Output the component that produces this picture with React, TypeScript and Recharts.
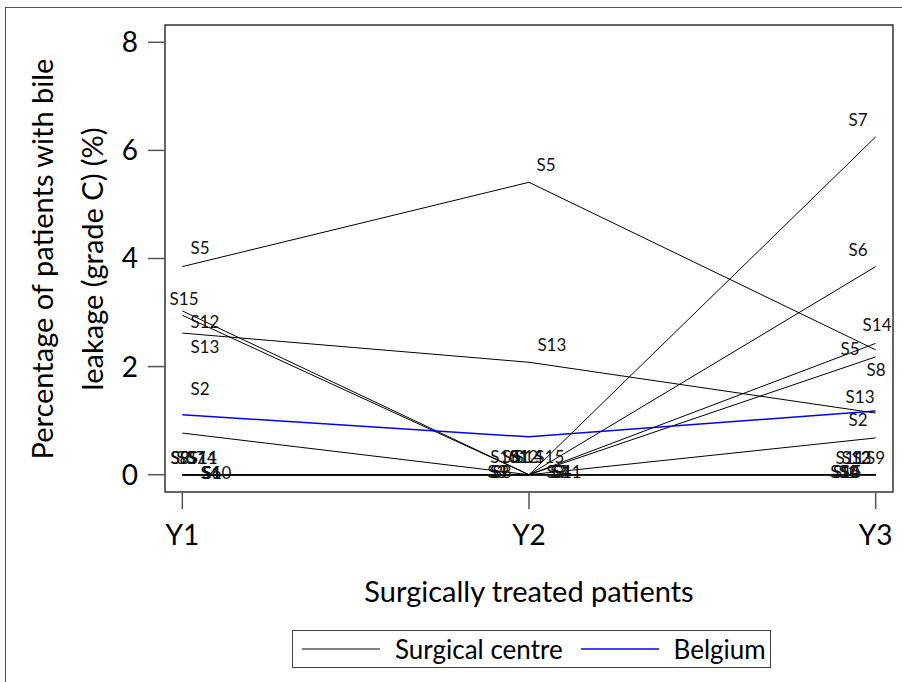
import {
  ComposedChart,
  Line,
  Scatter,
  XAxis,
  YAxis,
  ReferenceArea,
} from "recharts"

const years = ["Y1", "Y2", "Y3"]
const yTicks = [0, 2, 4, 6, 8]

const centres = [
  "S1", "S2", "S3", "S4", "S5", "S6", "S7", "S8",
  "S9", "S10", "S11", "S12", "S13", "S14", "S15",
]

// percentage per year (Y1, Y2, Y3)
const S1 = [0, 0, 0]
const S2 = [0.77, 0, 0.68]
const S3 = [0, 0, 0]
const S4 = [0, 0, 0]
const S5 = [3.85, 5.41, 2.31]
const S6 = [0, 0, 3.85]
const S7 = [0, 0, 6.25]
const S8 = [0, 0, 2.18]
const S9 = [0, 0, 0]
const S10 = [0, 0, 0]
const S11 = [0, 0, 0]
const S12 = [2.95, 0, 0]
const S13 = [2.62, 2.08, 1.14]
const S14 = [0, 0, 2.43]
const S15 = [3.03, 0, 0]
const belgium = [1.11, 0.7, 1.18]

const centreValues: Record<string, number[]> = {
  S1, S2, S3, S4, S5, S6, S7, S8, S9, S10, S11, S12, S13, S14, S15,
}

// where each centre's name was written on the plot (year position, %)
const labelsY1: [string, number, number][] = [
  ["S5", 1.051, 4.2], ["S15", 1.005, 3.26], ["S12", 1.065, 2.83],
  ["S13", 1.065, 2.37], ["S2", 1.051, 1.59],
  ["S8", 0.993, 0.31], ["S3", 1.01, 0.31], ["S7", 1.04, 0.31],
  ["S14", 1.058, 0.31], ["S11", 1.06, 0.31], ["S9", 0.995, 0.31],
  ["S4", 1.08, 0.04], ["S1", 1.086, 0.04], ["S10", 1.1, 0.04], ["S6", 1.085, 0.04],
]
const labelsY2: [string, number, number][] = [
  ["S5", 2.049, 5.74], ["S13", 2.066, 2.41],
  ["S10", 1.93, 0.33], ["S6", 1.95, 0.33], ["S1", 1.974, 0.33],
  ["S14", 2.0, 0.33], ["S15", 2.06, 0.33], ["S12", 1.985, 0.33],
  ["S3", 1.908, 0.06], ["S8", 1.922, 0.06], ["S9", 1.915, 0.06],
  ["S7", 2.078, 0.06], ["S2", 2.089, 0.06], ["S11", 2.11, 0.06], ["S4", 2.095, 0.06],
]
const labelsY3: [string, number, number][] = [
  ["S7", 2.949, 6.57], ["S6", 2.949, 4.17], ["S14", 3.004, 2.78],
  ["S5", 2.926, 2.33], ["S8", 3.001, 1.94], ["S13", 2.955, 1.44],
  ["S2", 2.949, 1.02],
  ["S11", 2.926, 0.31], ["S12", 2.943, 0.31], ["S3", 2.96, 0.31], ["S9", 3.0, 0.31],
  ["S10", 2.911, 0.06], ["S1", 2.92, 0.06], ["S4", 2.926, 0.06], ["S15", 2.918, 0.06],
]

const rows = years.map((y, i) => {
  const row: Record<string, number | string> = { x: i + 1, year: y, Belgium: belgium[i] }
  centres.forEach((c) => {
    row[c] = centreValues[c][i]
  })
  return row
})

const labelPoints = [...labelsY1, ...labelsY2, ...labelsY3].map(([label, x, y]) => ({
  label,
  x,
  y,
}))

const FONT = "Lato, 'Open Sans', sans-serif"

const LabelText = (props: any) => {
  const { cx, cy, payload } = props
  return (
    <text
      x={cx}
      y={cy}
      textAnchor="middle"
      dominantBaseline="central"
      fontSize={17}
      fontFamily={FONT}
      fill="#111"
    >
      {payload.label}
    </text>
  )
}

export default function App() {
  return (
    <div
      style={{
        position: "absolute",
        left: 0,
        top: 0,
        width: 902,
        height: 682,
        background: "#fff",
        fontFamily: FONT,
        overflow: "hidden",
      }}
    >
      <div
        style={{
          position: "absolute",
          left: 5,
          top: 7,
          width: 910,
          height: 700,
          borderTop: "1.5px solid #555",
          borderLeft: "1.5px solid #555",
        }}
      />
      <ComposedChart
        width={902}
        height={682}
        data={rows}
        margin={{ top: 25, right: 9, bottom: 130, left: 105 }}
      >
        <XAxis
          type="number"
          dataKey="x"
          domain={[0.95, 3.05]}
          ticks={[1, 2, 3]}
          tickFormatter={(v: number) => years[v - 1]}
          axisLine={false}
          tickSize={17}
          tickMargin={16}
          height={60}
          tickLine={{ stroke: "#555", strokeWidth: 1.5 }}
          tick={{ fontSize: 28, fill: "#000", fontFamily: FONT }}
        />
        <YAxis
          type="number"
          domain={[-0.32, 8.32]}
          ticks={yTicks}
          allowDataOverflow
          axisLine={false}
          tickSize={17}
          tickMargin={10}
          width={60}
          tickLine={{ stroke: "#555", strokeWidth: 1.5 }}
          tick={{ fontSize: 28, fill: "#000", fontFamily: FONT }}
        />
        <ReferenceArea
          x1={0.95}
          x2={3.05}
          y1={-0.32}
          y2={8.32}
          fill="none"
          stroke="#333"
          strokeWidth={1.5}
        />
        {centres.map((c) => (
          <Line
            key={c}
            dataKey={c}
            stroke="#000"
            strokeWidth={1}
            dot={false}
            isAnimationActive={false}
          />
        ))}
        <Line
          dataKey="Belgium"
          stroke="#0000ff"
          strokeWidth={1.5}
          dot={false}
          isAnimationActive={false}
        />
        <Scatter
          data={labelPoints}
          dataKey="y"
          shape={LabelText}
          isAnimationActive={false}
        />
      </ComposedChart>
      <div
        style={{
          position: "absolute",
          left: 42,
          top: 259,
          transform: "translate(-50%, -50%) rotate(-90deg)",
          whiteSpace: "nowrap",
          fontSize: 29,
          lineHeight: "50px",
          textAlign: "center",
          color: "#000",
        }}
      >
        Percentage of patients with bile
      </div>
      <div
        style={{
          position: "absolute",
          left: 92,
          top: 259,
          transform: "translate(-50%, -50%) rotate(-90deg)",
          whiteSpace: "nowrap",
          fontSize: 29,
          lineHeight: "50px",
          textAlign: "center",
          color: "#000",
        }}
      >
        leakage (grade C) (%)
      </div>
      <div
        style={{
          position: "absolute",
          left: 529,
          top: 590,
          transform: "translate(-50%, -50%)",
          whiteSpace: "nowrap",
          fontSize: 29,
          color: "#000",
        }}
      >
        Surgically treated patients
      </div>
      <div
        style={{
          position: "absolute",
          left: 292,
          top: 630,
          width: 477,
          height: 36,
          border: "1.5px solid #444",
          display: "flex",
          alignItems: "center",
          fontSize: 26,
          color: "#000",
        }}
      >
        <svg width={78} height={4} style={{ marginLeft: 9 }}>
          <line x1={0} y1={2} x2={78} y2={2} stroke="#000" strokeWidth={1} />
        </svg>
        <span style={{ marginLeft: 15 }}>Surgical centre</span>
        <svg width={78} height={4} style={{ marginLeft: 18 }}>
          <line x1={0} y1={2} x2={78} y2={2} stroke="#0000ff" strokeWidth={1.5} />
        </svg>
        <span style={{ marginLeft: 15 }}>Belgium</span>
      </div>
    </div>
  )
}
